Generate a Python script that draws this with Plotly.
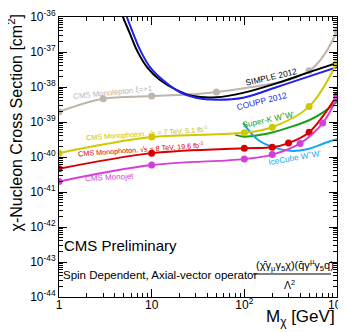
import plotly.graph_objects as go

# --- data (x: dark matter mass in GeV, y: cross section in cm^2) ---
monolepton_x = [1, 3, 10, 50, 500, 1000]
monolepton_y = [1.95e-39, 4.6e-39, 5.5e-39, 7.2e-39, 2.9e-38, 4.0e-37]

simple_x = [4.5, 4.9, 5.8, 6.9, 8.9, 12.3, 18.7, 28, 50, 97, 225, 510, 1000]
simple_y = [2.0e-36, 1.0e-36, 3.47e-37, 1.15e-37, 3.7e-38, 1.58e-38, 8.1e-39,
            5.5e-39, 5.1e-39, 6.8e-39, 1.29e-38, 2.7e-38, 4.9e-38]

coupp_x = [5.0, 5.4, 6.3, 7.5, 9.6, 13.2, 20, 30, 50, 97, 225, 510, 1000]
coupp_y = [2.0e-36, 1.0e-36, 3.47e-37, 1.15e-37, 3.7e-38, 1.58e-38, 7.2e-39,
           4.9e-39, 4.3e-39, 4.9e-39, 1.0e-38, 2.04e-38, 3.7e-38]

monophoton7_x = [1, 10, 100, 200, 500, 1000]
monophoton7_y = [1.29e-40, 3.7e-40, 4.9e-40, 7.1e-40, 2.75e-39, 5.0e-38]

monophoton8_x = [1, 10, 100, 200, 300, 500, 1000]
monophoton8_y = [4.6e-41, 1.29e-40, 1.78e-40, 1.9e-40, 2.5e-40, 5.1e-40, 5.8e-39]

monojet_x = [1, 10, 100, 200, 400, 700, 1000]
monojet_y = [2.0e-41, 5.9e-41, 8.7e-41, 1.17e-40, 2.45e-40, 9.3e-40, 4.9e-39]

superk_x = [80, 100, 150, 200, 300, 500, 700, 1000]
superk_y = [4.3e-40, 3.8e-40, 4.3e-40, 5.0e-40, 6.9e-40, 1.12e-39, 1.86e-39, 3.8e-39]

icecube_x = [97, 140, 215, 330, 490, 740, 1000]
icecube_y = [9.3e-40, 3.1e-40, 1.82e-40, 1.48e-40, 1.7e-40, 2.5e-40, 3.2e-40]

x_tickvals = [1, 10, 100, 1000]
x_ticktext = ["1", "10", "10<sup>2</sup>", "10<sup>3</sup>"]
y_exponents = list(range(-44, -35))

FONT = "Liberation Sans, Arial, sans-serif"

# the page body adds an 8px margin, so lay the figure out 8px up/left
OFF = 8
# left, right, top, bottom of the plot area in page pixels
L, R, T, B = 59, 337, 17, 297


def px(x, y):
    """page pixel -> paper coordinates"""
    return (x - L) / (R - L), (B - y) / (B - T)


def note(text, x, y, size, color='black', angle=0, xanchor='center'):
    ax, ay = px(x, y)
    fig.add_annotation(x=ax, y=ay, xref='paper', yref='paper', text=text,
                       showarrow=False, textangle=angle,
                       xanchor=xanchor, yanchor='middle',
                       font=dict(color=color, size=size, family=FONT))


fig = go.Figure()

curves = [
    (monolepton_x, monolepton_y, '#BEB5AC', True),
    (simple_x, simple_y, '#000000', False),
    (coupp_x, coupp_y, '#1E22F0', False),
    (superk_x, superk_y, '#16A016', False),
    (icecube_x, icecube_y, '#12A6EE', False),
    (monophoton7_x, monophoton7_y, '#D2C800', True),
    (monophoton8_x, monophoton8_y, '#D60000', True),
    (monojet_x, monojet_y, '#D63FD6', True),
]

for xs, ys, color, with_markers in curves:
    fig.add_trace(
        go.Scatter(
            x=xs,
            y=ys,
            mode='lines+markers' if with_markers else 'lines',
            line=dict(color=color, width=2, shape='spline', smoothing=1.0),
            marker=dict(size=7, color=color),
            cliponaxis=True,
            showlegend=False,
            hoverinfo='skip'
        )
    )

# curve labels: text, pixel centre, angle, colour, size
labels = [
    ("CMS Monolepton ξ=+1", 112, 92, -6, '#BEB5AC', 7.8),
    ("SIMPLE 2012", 271, 77, -13, '#000000', 8.5),
    ("COUPP 2012", 262, 101, -14, '#1E22F0', 8.5),
    ("Super-K W<sup>+</sup>W<sup>-</sup>", 268, 119, -12, '#16A016', 8.2),
    ("IceCube W<sup>+</sup>W<sup>-</sup>", 295, 157, -10, '#12A6EE', 8.2),
    ("CMS Monophoton, √s = 7 TeV, 5.1 fb<sup>-1</sup>", 147, 133, -4, '#C8BE00', 7.2),
    ("CMS Monophoton, √s = 8 TeV, 19.6 fb<sup>-1</sup>", 141, 149, -4, '#D60000', 7.2),
    ("CMS Monojet", 109, 177, -3, '#D63FD6', 8),
]
for text, lx, ly, ang, color, size in labels:
    note(text, lx, ly, size, color, ang)

# CMS Preliminary + operator text
note("CMS Preliminary", 62, 245, 15, xanchor='left')
note("Spin Dependent, Axial-vector operator", 61, 275, 11.5, xanchor='left')
note("(χ\u0304γ<sub>μ</sub>γ<sub>5</sub>χ)(q\u0304γ<sup>μ</sup>γ<sub>5</sub>q)", 295, 265, 11)
note("Λ<sup>2</sup>", 289, 284, 10.5)
x0, yl = px(253, 274)
x1, _ = px(331, 274)
fig.add_shape(type='line', xref='paper', yref='paper', x0=x0, x1=x1, y0=yl, y1=yl,
              line=dict(color='black', width=1))

# axis titles
ax, ay = px(15, 13)
fig.add_annotation(x=ax, y=ay, xref='paper', yref='paper',
                   text="χ-Nucleon Cross Section [cm<sup>2</sup>]",
                   showarrow=False, textangle=-90, xanchor='center', yanchor='top',
                   font=dict(size=16, color='black', family=FONT))
note("M<sub>χ</sub> [GeV]", 337, 318, 17, xanchor='right')

axis_common = dict(
    showline=True,
    linecolor='black',
    linewidth=1,
    mirror='ticks',
    ticks='inside',
    tickcolor='black',
    showgrid=False,
    zeroline=False,
    automargin=False,
    tickfont=dict(size=12, color='black', family=FONT),
)

fig.update_layout(
    width=346,
    height=332,
    margin=dict(l=L - OFF, r=346 - R + OFF, t=T - OFF, b=332 - B + OFF),
    plot_bgcolor='white',
    paper_bgcolor='white',
    font=dict(family=FONT, color='black'),
    showlegend=False,
    xaxis=dict(
        type='log',
        range=[0, 3],
        tickmode='array',
        tickvals=x_tickvals,
        ticktext=x_ticktext,
        ticklen=8,
        ticklabelstandoff=-3,
        minor=dict(ticks='inside', ticklen=4, dtick='D1', tickcolor='black'),
        **axis_common
    ),
    yaxis=dict(
        type='log',
        range=[-44, -36],
        tickmode='array',
        tickvals=[10.0 ** e for e in y_exponents],
        ticktext=[f"10<sup>{e}</sup>" for e in y_exponents],
        ticklen=8,
        minor=dict(ticks='inside', ticklen=4, dtick='D1', tickcolor='black'),
        **axis_common
    ),
)

fig.write_html("out.html")
